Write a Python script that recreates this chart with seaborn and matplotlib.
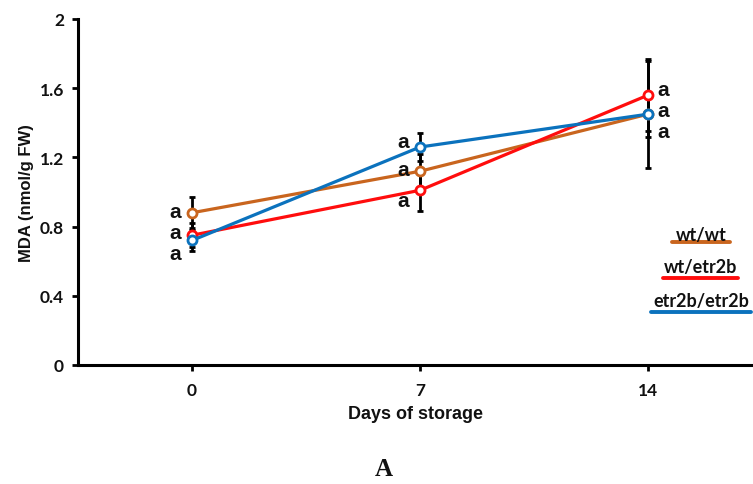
import matplotlib
matplotlib.use("Agg")
import matplotlib.pyplot as plt
import seaborn as sns
import pandas as pd
import numpy as np

days = ["0", "7", "14"]
series = ["wt/wt", "wt/etr2b", "etr2b/etr2b"]
wt_wt = [0.88, 1.12, 1.45]
wt_etr2b = [0.75, 1.01, 1.56]
etr2b_etr2b = [0.72, 1.26, 1.45]
err_wt_wt = [0.09, 0.10, 0.13]
err_wt_etr2b = [0.07, 0.12, 0.21]
err_etr2b_etr2b = [0.06, 0.08, 0.31]
letters = ["a", "a", "a"]
yticks = [0, 0.4, 0.8, 1.2, 1.6, 2]
ytick_labels = ["0", "0.4", "0.8", "1.2", "1.6", "2"]

colors = {"wt/wt": "#C9651E", "wt/etr2b": "#FF0D0D", "etr2b/etr2b": "#0B72BD"}

vals = {"wt/wt": wt_wt, "wt/etr2b": wt_etr2b, "etr2b/etr2b": etr2b_etr2b}
errs = {"wt/wt": err_wt_wt, "wt/etr2b": err_wt_etr2b, "etr2b/etr2b": err_etr2b_etr2b}

rows = []
for s in series:
    for i, d in enumerate(days):
        rows.append({"pos": i, "day": d, "MDA": vals[s][i], "err": errs[s][i], "genotype": s})
df = pd.DataFrame(rows)

sns.set_theme(style="white")
plt.rcParams["font.family"] = ["Liberation Sans", "DejaVu Sans"]

fig = plt.figure(figsize=(7.53, 4.85), dpi=100)
ax = fig.add_axes([78 / 753, 1 - 366 / 485, (753 - 78) / 753, (366 - 20) / 485])

# error bars (black)
for s in series:
    sub = df[df.genotype == s]
    ax.errorbar(sub["pos"], sub["MDA"], yerr=sub["err"], fmt="none", ecolor="black",
                elinewidth=2.0, capsize=2, capthick=2, zorder=1)

n_before = len(ax.lines)
sns.lineplot(data=df, x="pos", y="MDA", hue="genotype", hue_order=series,
             palette=colors, marker="o", markersize=6.5, markerfacecolor="white",
             markeredgewidth=2, linewidth=2.3, legend=False, ax=ax, zorder=3)
for line in ax.lines[n_before:]:
    line.set_markeredgecolor(line.get_color())

ax.set_xlim(-0.5, 2.46)
ax.set_ylim(0, 2)
ax.set_xticks([0, 1, 2])
ax.set_xticklabels(days)
ax.set_yticks(yticks)
ax.set_yticklabels(ytick_labels)
for lab in ax.get_xticklabels() + ax.get_yticklabels():
    lab.set_fontfamily(["Lato", "DejaVu Sans"])
    lab.set_fontweight("bold")
    lab.set_fontsize(12.5)
    lab.set_color("#111111")
ax.tick_params(axis="both", direction="out", length=4, width=2, color="black",
               bottom=True, left=True, pad=6)
ax.tick_params(axis="x", pad=8)
for side in ["top", "right"]:
    ax.spines[side].set_visible(False)
for side in ["left", "bottom"]:
    ax.spines[side].set_color("black")
    ax.spines[side].set_linewidth(2.2)

ax.set_xlabel("Days of storage", fontsize=13, fontweight="bold", labelpad=5, color="#111111")
ax.set_ylabel("MDA (nmol/g FW)", fontsize=12, fontweight="bold", labelpad=4, color="#111111")

# significance letters
letter_kw = dict(fontsize=15, fontweight="bold", color="#111111", va="center")
lt0 = [0.89, 0.765, 0.645]
lt1 = [1.29, 1.13, 0.95]
lt2 = [1.59, 1.47, 1.35]
for yv in lt0:
    ax.text(-0.05, yv, letters[0], ha="right", **letter_kw)
for yv in lt1:
    ax.text(0.95, yv, letters[1], ha="right", **letter_kw)
for yv in lt2:
    ax.text(2.04, yv, letters[2], ha="left", **letter_kw)

# custom legend: text with colored underline
leg_items = [("wt/wt", 701, 235, 672, 730, 243),
             ("wt/etr2b", 701, 268, 663, 738, 279),
             ("etr2b/etr2b", 701, 301, 651, 751, 313)]
for name, tx, ty, x0, x1, ly in leg_items:
    fig.text(tx / 753, 1 - ty / 485, name, ha="center", va="center", fontsize=13,
             fontweight="bold", family=["Lato", "DejaVu Sans"], color="#111111")
    fig.add_artist(plt.Line2D([x0 / 753, x1 / 753], [1 - ly / 485, 1 - ly / 485],
                              color=colors[name], linewidth=2.8, transform=fig.transFigure))

fig.text(384 / 753, 1 - 470 / 485, "A", ha="center", va="center", fontsize=18,
         fontweight="bold", family=["Liberation Serif", "DejaVu Serif"], color="#111111")

fig.savefig("out.png", dpi=100)
